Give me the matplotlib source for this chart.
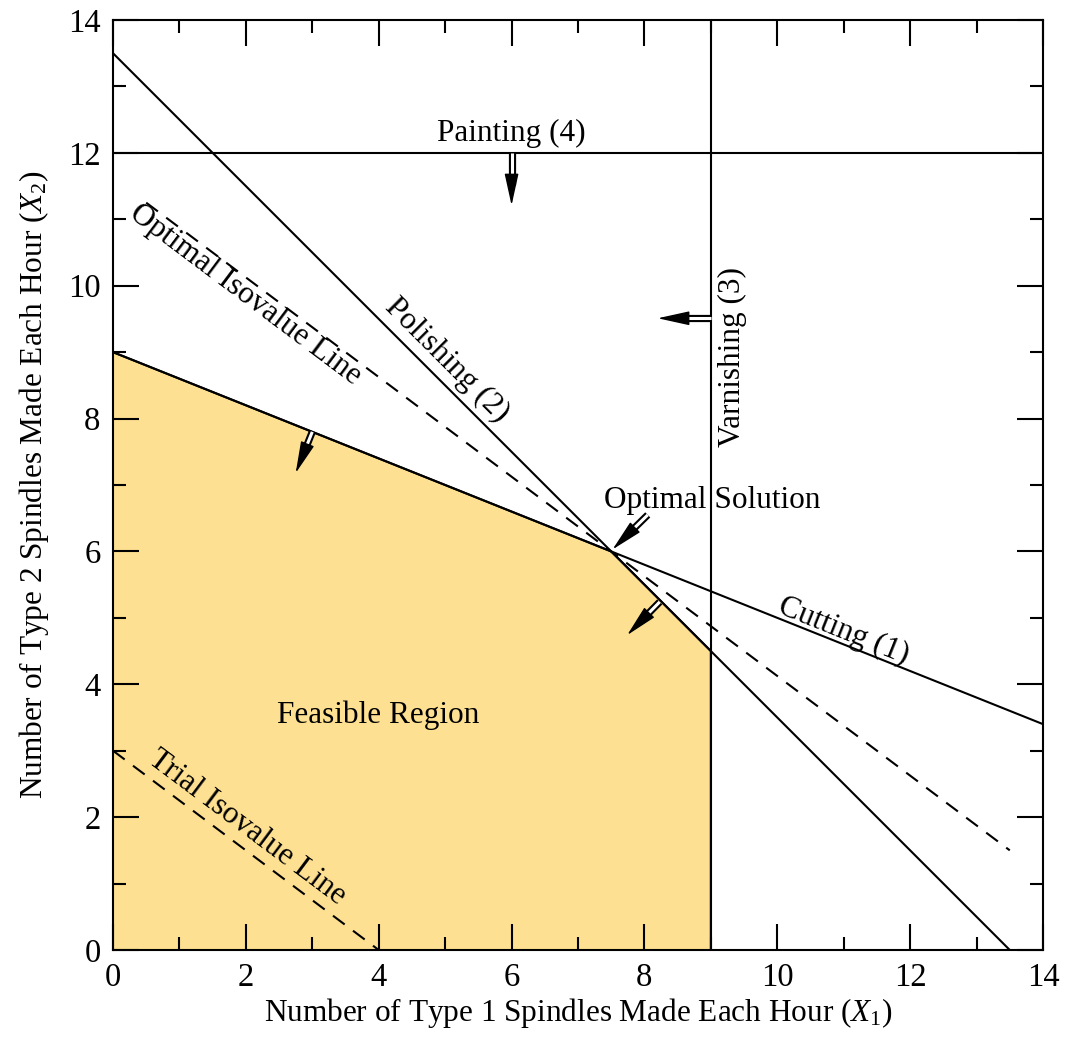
import numpy as np
import matplotlib
matplotlib.use("Agg")
import matplotlib.pyplot as plt
import matplotlib.patheffects as pe

plt.rcParams['font.family'] = ['Liberation Serif', 'DejaVu Serif']
plt.rcParams['mathtext.fontset'] = 'custom'
plt.rcParams['mathtext.rm'] = 'Liberation Serif'
plt.rcParams['mathtext.it'] = 'Liberation Serif:italic'

# constraint lines
cutting_x = [0, 14]; cutting_y = [9, 3.4]
polishing_x = [0, 13.5]; polishing_y = [13.5, 0]
varnishing_x = [9, 9]; varnishing_y = [0, 14]
painting_x = [0, 14]; painting_y = [12, 12]
# isovalue lines
optimal_iso_x = [0.5, 13.5]; optimal_iso_y = [11.25, 1.5]
trial_iso_x = [0, 4]; trial_iso_y = [3, 0]
# feasible region
feasible_x = [0, 0, 7.5, 9, 9]
feasible_y = [0, 9, 6, 4.5, 0]

ticks = [0, 2, 4, 6, 8, 10, 12, 14]

fig = plt.figure(figsize=(10.67, 10.38), dpi=100)
ax = fig.add_axes([113/1067, 1-950/1038, 930/1067, 930/1038])
ax.set_xlim(0, 14); ax.set_ylim(0, 14)

ax.fill(feasible_x, feasible_y, color='#FDE091', lw=0, zorder=1)
lw = 1.5
for xs, ys in [(cutting_x, cutting_y), (polishing_x, polishing_y),
               (varnishing_x, varnishing_y), (painting_x, painting_y)]:
    ax.plot(xs, ys, color='black', lw=lw, zorder=3, solid_capstyle='butt')
ax.plot(feasible_x[1:], feasible_y[1:], color='black', lw=lw, zorder=3)
for xs, ys in [(optimal_iso_x, optimal_iso_y), (trial_iso_x, trial_iso_y)]:
    ax.plot(xs, ys, color='black', lw=lw, ls=(0, (7, 5)), zorder=3)

fs = 22.5
def ang(xs, ys):
    return np.degrees(np.arctan2(ys[1]-ys[0], xs[1]-xs[0]))

ax.text(6.0, 12.08, 'Painting (4)', fontsize=fs, ha='center', va='bottom', zorder=5)
ax.text(9.33, 8.93, 'Varnishing (3)', fontsize=fs, ha='center', va='center', rotation=90, zorder=5)
ax.text(5.03, 8.88, 'Polishing (2)', fontsize=fs, ha='center', va='center',
        rotation=ang(polishing_x, polishing_y), rotation_mode='anchor', zorder=5)
ax.text(1.99, 9.86, 'Optimal Isovalue Line', fontsize=fs, ha='center', va='center',
        rotation=ang(optimal_iso_x, optimal_iso_y), rotation_mode='anchor', zorder=5)
ax.text(11.0, 4.8, 'Cutting (1)', fontsize=fs, ha='center', va='center',
        rotation=ang(cutting_x, cutting_y), rotation_mode='anchor', zorder=5)
ax.text(2.02, 1.84, 'Trial Isovalue Line', fontsize=fs, ha='center', va='center',
        rotation=ang(trial_iso_x, trial_iso_y), rotation_mode='anchor', zorder=5)
ax.text(9.02, 6.77, 'Optimal Solution', fontsize=fs, ha='center', va='center', zorder=5)
ax.text(3.99, 3.54, 'Feasible Region', fontsize=fs, ha='center', va='center', zorder=5)

def hollow_arrow(tail, head):
    tail = np.array(tail, float); head = np.array(head, float)
    d = head - tail; L = np.hypot(*d); u = d / L
    hl = 0.38
    base = head - u * hl * 0.8
    ax.plot([tail[0], base[0]], [tail[1], base[1]], color='white', lw=2.2,
            solid_capstyle='butt', zorder=6,
            path_effects=[pe.Stroke(linewidth=5.2, foreground='black', capstyle='butt'), pe.Normal()])
    ax.annotate('', xy=head, xytext=head - u * hl,
                arrowprops=dict(arrowstyle='-|>,head_length=1.0,head_width=0.22',
                                color='black', lw=1, shrinkA=0, shrinkB=0,
                                mutation_scale=20), zorder=7)

hollow_arrow((6.0, 12.0), (6.0, 11.21))
hollow_arrow((9.0, 9.51), (8.2, 9.51))
hollow_arrow((3.0, 7.8), (2.75, 7.18))
hollow_arrow((8.23, 5.24), (7.74, 4.74))
hollow_arrow((8.05, 6.55), (7.52, 6.03))

ax.set_xticks(ticks); ax.set_yticks(ticks)
ax.set_xticks(np.arange(1, 14, 2), minor=True)
ax.set_yticks(np.arange(1, 14, 2), minor=True)
ax.tick_params(which='both', direction='in', top=True, right=True, width=1.5)
ax.tick_params(which='major', length=19, labelsize=23.5, pad=9)
ax.tick_params(which='minor', length=9.5)
for s in ax.spines.values():
    s.set_linewidth(1.5)
    s.set_zorder(8)

ax.set_xlabel('Number of Type 1 Spindles Made Each Hour ($X_1$)', fontsize=22.5, labelpad=2)
ax.set_ylabel('Number of Type 2 Spindles Made Each Hour ($X_2$)', fontsize=22.5, labelpad=12)

fig.savefig('out.png', dpi=100)
